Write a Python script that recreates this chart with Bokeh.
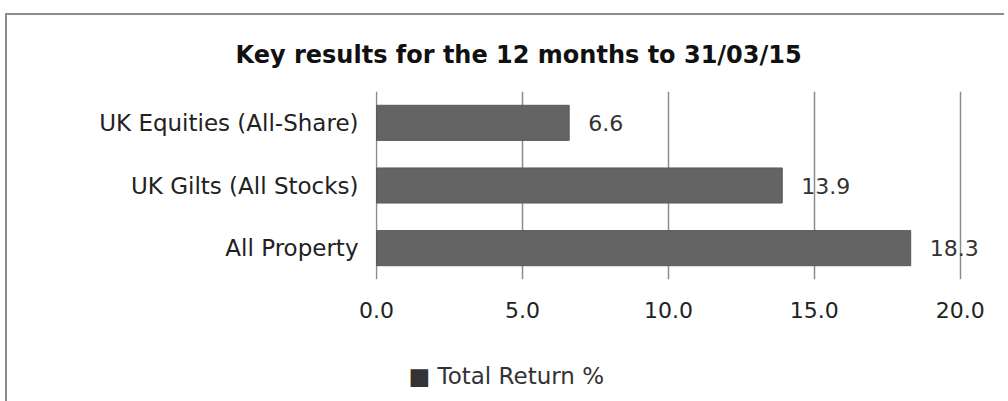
from bokeh.plotting import figure
from bokeh.models import (Range1d, FactorRange, FixedTicker, NumeralTickFormatter,
                          ColumnDataSource, LabelSet, Title)
from bokeh.core.properties import value
from bokeh.embed import file_html
from bokeh.resources import INLINE

categories = ["All Property", "UK Gilts (All Stocks)", "UK Equities (All-Share)"]
values = [18.3, 13.9, 6.6]
labels = ["18.3", "13.9", "6.6"]
x_ticks = [0, 5, 10, 15, 20]
title_text = "Key results for the 12 months to 31/03/15"
series_name = "Total Return %"

FONT = "DejaVu Sans"
BAR = "#646464"
GRID = "#8c8c8c"

src = ColumnDataSource(dict(cat=categories, val=values, lab=labels))

p = figure(frame_width=614, frame_height=188, output_backend="svg", toolbar_location=None,
           y_range=FactorRange(*categories, range_padding=0),
           x_range=Range1d(-0.035, 21.0),
           min_border_left=368, min_border_right=15, min_border_top=76, min_border_bottom=122)
p.outline_line_color = None
p.background_fill_color = "white"
p.border_fill_color = "white"

p.add_layout(Title(text=title_text, align="left", text_font=FONT, text_font_size="24px",
                   text_font_style="bold", text_color="#111111", standoff=45, offset=-140),
             "above")

r = p.hbar(y="cat", right="val", left=0, height=0.56, source=src,
           fill_color=BAR, line_color="#5a5a5a", line_width=1)

p.add_layout(LabelSet(x="val", y="cat", text="lab", source=src, x_offset=19, y_offset=0,
                      text_baseline="middle", text_font=value(FONT), text_font_size="22px",
                      text_color="#333333"))

p.xgrid.ticker = FixedTicker(ticks=x_ticks)
p.xgrid.grid_line_color = GRID
p.xgrid.grid_line_width = 1.5
p.ygrid.grid_line_color = None
p.xgrid.level = "underlay"

p.xaxis.ticker = FixedTicker(ticks=x_ticks)
p.xaxis.formatter = NumeralTickFormatter(format="0.0")
p.xaxis.axis_line_color = None
p.xaxis.major_tick_line_color = None
p.xaxis.minor_tick_line_color = None
p.xaxis.major_label_standoff = 16
p.xaxis.major_label_text_font = FONT
p.xaxis.major_label_text_font_size = "22px"
p.xaxis.major_label_text_color = "#222222"
p.xaxis.axis_label = " "
p.xaxis.axis_label_text_font_size = "20px"
p.xaxis.axis_label_standoff = 17

p.yaxis.axis_line_color = None
p.yaxis.major_tick_line_color = None
p.yaxis.minor_tick_line_color = None
p.yaxis.major_label_standoff = 11
p.yaxis.major_label_text_font = FONT
p.yaxis.major_label_text_font_size = "23px"
p.yaxis.major_label_text_color = "#222222"

# legend line (key square + series name) placed below the axis
p.add_layout(Title(text="\u25a0 " + series_name, align="left", offset=33, standoff=0,
                   vertical_align="top", text_font=FONT, text_font_size="23px",
                   text_font_style="normal", text_color="#333333"), "below")

p.styles = {"border-top": "2px solid #8c8c8c", "border-left": "2px solid #8c8c8c",
            "margin-left": "5px", "margin-top": "13px"}

open("out.html", "w").write(file_html(p, INLINE))
